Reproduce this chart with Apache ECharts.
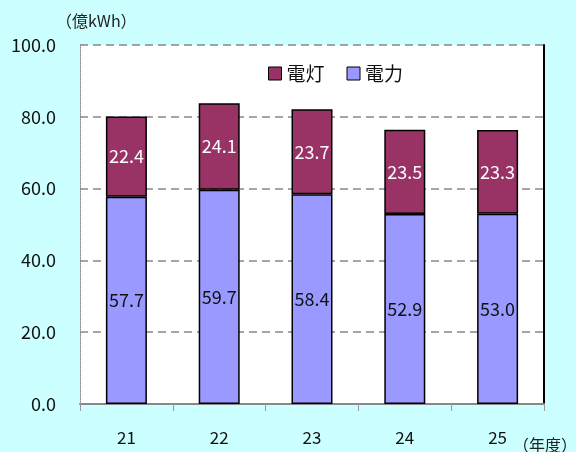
<!DOCTYPE html>
<html>
<head>
<meta charset="utf-8">
<script src="https://cdn.jsdelivr.net/npm/echarts@6/dist/echarts.min.js"></script>
<style>
  html, body { margin: 0; padding: 0; background: #ccffff; }
  #main { width: 576px; height: 452px; }
</style>
</head>
<body>
<div id="main"></div>
<script>
// 年度
const years = ['21', '22', '23', '24', '25'];
// 電力（下段）
const denryoku = [57.7, 59.7, 58.4, 52.9, 53.0];
// 電灯（上段）
const dento = [22.4, 24.1, 23.7, 23.5, 23.3];

const font = '"Noto Sans CJK JP", "Noto Sans", sans-serif';

const chart = echarts.init(document.getElementById('main'));

const option = {
  backgroundColor: '#ccffff',
  textStyle: { fontFamily: font },
  grid: {
    left: 80, right: 32, top: 45, bottom: 48,
    show: true,
    backgroundColor: '#ffffff',
    borderWidth: 0
  },
  graphic: [
    {
      type: 'text', left: 56, top: 13,
      style: { text: '（億kWh）', fontSize: 16, fill: '#222', fontFamily: font }
    },
    {
      type: 'text', left: 513, top: 437,
      style: { text: '（年度）', fontSize: 16, fill: '#222', fontFamily: font }
    }
  ],
  legend: {
    data: ['電灯', '電力'],
    top: 59, left: 263,
    itemWidth: 13, itemHeight: 13,
    itemGap: 22,
    icon: 'rect',
    textStyle: { fontSize: 19, color: '#111', fontFamily: font, padding: [4, 0, 0, 0] },
    itemStyle: { borderColor: '#000', borderWidth: 1 }
  },
  xAxis: {
    type: 'category',
    data: years,
    axisLine: { lineStyle: { color: '#888', width: 2 } },
    axisTick: { show: true, length: 7, lineStyle: { color: '#999' } },
    axisLabel: { fontSize: 17, color: '#111', margin: 25 }
  },
  yAxis: [
    {
      type: 'value',
      min: 0, max: 100, interval: 20,
      axisLine: { show: true, lineStyle: { color: '#888', type: 'dotted', width: 1 } },
      axisTick: { show: false },
      axisLabel: {
        fontSize: 18, color: '#111', margin: 24,
        formatter: v => v.toFixed(1)
      },
      splitLine: { lineStyle: { color: '#888', type: [8, 5], width: 1.5 } }
    },
    {
      type: 'value',
      position: 'right',
      min: 0, max: 100, interval: 20,
      axisLine: { show: true, lineStyle: { color: '#000', width: 2 } },
      axisTick: { show: false },
      axisLabel: { show: false },
      splitLine: { show: false }
    }
  ],
  series: [
    {
      name: '電力',
      type: 'bar',
      stack: 'total',
      data: denryoku,
      barWidth: 41,
      itemStyle: { color: '#9999ff', borderColor: '#000', borderWidth: 1.5 },
      label: {
        show: true, position: 'inside', color: '#111', fontSize: 18,
        formatter: p => p.value.toFixed(1)
      }
    },
    {
      name: '電灯',
      type: 'bar',
      stack: 'total',
      data: dento,
      barWidth: 41,
      itemStyle: { color: '#993366', borderColor: '#000', borderWidth: 1.5 },
      label: {
        show: true, position: 'inside', color: '#ffffff', fontSize: 18,
        formatter: p => p.value.toFixed(1)
      }
    }
  ]
};

chart.setOption(option);
</script>
</body>
</html>
